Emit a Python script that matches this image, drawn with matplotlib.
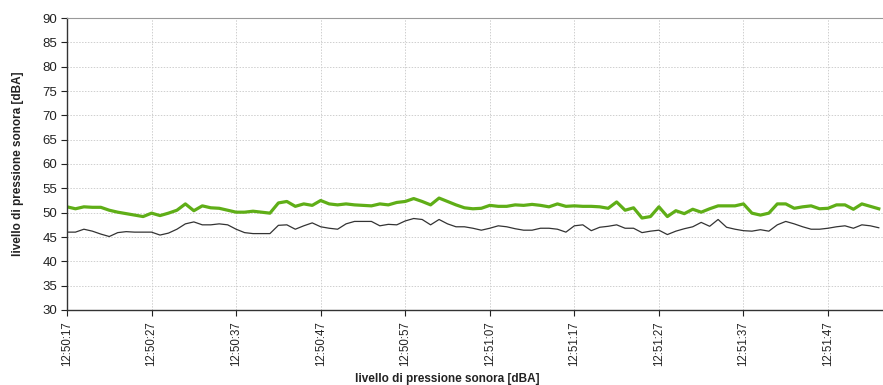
"""
Sound pressure level over time: two measurement traces (1 s samples)
from 12:50:17 onwards, plotted on a fixed 30-90 dBA scale.
"""

import matplotlib
matplotlib.use("Agg")
import matplotlib.pyplot as plt

# === DATA ================================================================== #

# seconds elapsed since 12:50:17
START_H, START_M, START_S = 12, 50, 17

level_high = [
    51.2, 50.8, 51.2, 51.1, 51.1, 50.5, 50.1, 49.8, 49.5, 49.2,
    49.9, 49.4, 49.9, 50.5, 51.8, 50.4, 51.4, 51.0, 50.9, 50.5,
    50.1, 50.1, 50.3, 50.1, 49.9, 52.0, 52.3, 51.3, 51.8, 51.5,
    52.5, 51.8, 51.6, 51.8, 51.6, 51.5, 51.4, 51.8, 51.6, 52.1,
    52.3, 52.9, 52.3, 51.6, 53.0, 52.3, 51.6, 51.0, 50.8, 50.9,
    51.5, 51.3, 51.3, 51.6, 51.5, 51.7, 51.5, 51.2, 51.8, 51.3,
    51.4, 51.3, 51.3, 51.2, 50.9, 52.2, 50.5, 51.0, 48.9, 49.2,
    51.2, 49.2, 50.4, 49.8, 50.7, 50.1, 50.8, 51.4, 51.4, 51.4,
    51.8, 49.9, 49.5, 49.9, 51.8, 51.8, 50.9, 51.2, 51.4, 50.8,
    50.9, 51.6, 51.6, 50.7, 51.8, 51.3, 50.8,
]

level_low = [
    46.0, 46.0, 46.6, 46.2, 45.6, 45.1, 45.9, 46.1, 46.0, 46.0,
    46.0, 45.4, 45.8, 46.6, 47.7, 48.1, 47.5, 47.5, 47.7, 47.5,
    46.6, 45.9, 45.7, 45.7, 45.7, 47.4, 47.5, 46.6, 47.3, 47.9,
    47.1, 46.8, 46.6, 47.7, 48.2, 48.2, 48.2, 47.3, 47.6, 47.5,
    48.3, 48.8, 48.6, 47.5, 48.6, 47.7, 47.1, 47.1, 46.8, 46.4,
    46.8, 47.3, 47.1, 46.7, 46.4, 46.4, 46.8, 46.8, 46.6, 46.0,
    47.3, 47.5, 46.3, 47.0, 47.2, 47.5, 46.8, 46.8, 45.9, 46.2,
    46.4, 45.5, 46.2, 46.7, 47.1, 48.0, 47.2, 48.6, 47.0, 46.6,
    46.3, 46.2, 46.5, 46.2, 47.5, 48.2, 47.7, 47.1, 46.6, 46.6,
    46.8, 47.1, 47.3, 46.8, 47.5, 47.3, 46.9,
]

seconds = list(range(len(level_high)))

tick_seconds = list(range(0, 91, 10))
y_ticks = list(range(30, 91, 5))

AXIS_LABEL = "livello di pressione sonora [dBA]"


def clock_label(sec):
    total = START_H * 3600 + START_M * 60 + START_S + sec
    h, rem = divmod(total, 3600)
    m, s = divmod(rem, 60)
    return f"{h:02d}:{m:02d}:{s:02d}"


# === PLOT ================================================================== #

plt.rcParams["font.family"] = ["Liberation Sans", "DejaVu Sans"]

fig = plt.figure(figsize=(8.83, 3.85), dpi=100)
ax = fig.add_axes([67 / 883, 1 - 310 / 385, 1 - 67 / 883, (310 - 18) / 385])

ax.plot(seconds, level_high, color="#5fae17", linewidth=2.3, solid_joinstyle="round")
ax.plot(seconds, level_low, color="#333333", linewidth=0.9)

ax.set_xlim(0, 96.5)
ax.set_ylim(30, 90)
ax.set_yticks(y_ticks)
ax.set_xticks(tick_seconds)
ax.set_xticklabels([clock_label(s) for s in tick_seconds], rotation=90)

ax.tick_params(axis="both", colors="#222222", length=4, width=0.8)
ax.tick_params(axis="y", labelsize=9.5, pad=3)
ax.tick_params(axis="x", labelsize=8.3, pad=4)

ax.grid(True, color="#cfcfcf", linestyle=(0, (1.5, 1.5)), linewidth=0.7)
ax.set_axisbelow(True)

for side in ("left", "bottom"):
    ax.spines[side].set_color("#333333")
    ax.spines[side].set_linewidth(1.0)
ax.spines["top"].set_color("#999999")
ax.spines["top"].set_linewidth(0.8)
ax.spines["right"].set_visible(False)

fig.text(447 / 883, 1 - 379 / 385, AXIS_LABEL, ha="center", va="center",
         fontsize=8.5, fontweight="bold", color="#222222")
fig.text(18 / 883, 1 - 164 / 385, AXIS_LABEL, ha="center", va="center",
         rotation=90, fontsize=8.5, fontweight="bold", color="#222222")

fig.savefig("out.png", dpi=100)
